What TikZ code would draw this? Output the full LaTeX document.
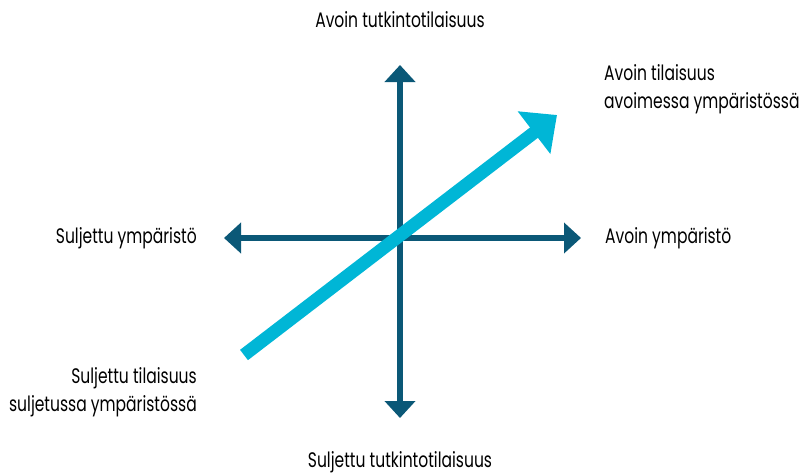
\documentclass[tikz,border=0pt]{standalone}
\usepackage{fontspec}
\setmainfont[FakeStretch=0.74]{Poppins}
\usetikzlibrary{arrows.meta}
\definecolor{axisblue}{HTML}{0B5877}
\definecolor{arrcyan}{HTML}{00B6D6}
\tikzset{
  lbl/.style={font=\fontsize{21}{28}\selectfont, text=black, inner sep=0pt},
  axis/.style={draw=axisblue, line width=5.5pt, {Triangle[width=30pt,length=17pt]}-{Triangle[width=30pt,length=17pt]}},
  bigarrow/.style={draw=arrcyan, line width=13pt, -{Triangle[width=52pt,length=29pt]}}
}
\begin{document}
\begin{tikzpicture}[x=1pt,y=-1pt]
\useasboundingbox (0,0) rectangle (804,474);
\coordinate (top) at (400,65);
\coordinate (bot) at (400,418);
\coordinate (left) at (224,238);
\coordinate (right) at (581,238);
\coordinate (tail) at (244,355);
\coordinate (tip) at (557,115);
\draw[axis] (bot) -- (top);
\draw[axis] (left) -- (right);
\draw[bigarrow] (tail) -- (tip);
\node[lbl] (ttop) at (400,20) {Avoin tutkintotilaisuus};
\node[lbl] (tbot) at (400,462) {Suljettu tutkintotilaisuus};
\node[lbl, anchor=east] (tleft) at (197,238) {Suljettu ympäristö};
\node[lbl, anchor=west] (tright) at (605,238) {Avoin ympäristö};
\node[lbl, anchor=west, align=left] (topen) at (604,89) {Avoin tilaisuus\\avoimessa ympäristössä};
\node[lbl, anchor=east, align=right] (tclosed) at (197,392) {Suljettu tilaisuus\\suljetussa ympäristössä};
\end{tikzpicture}
\end{document}
